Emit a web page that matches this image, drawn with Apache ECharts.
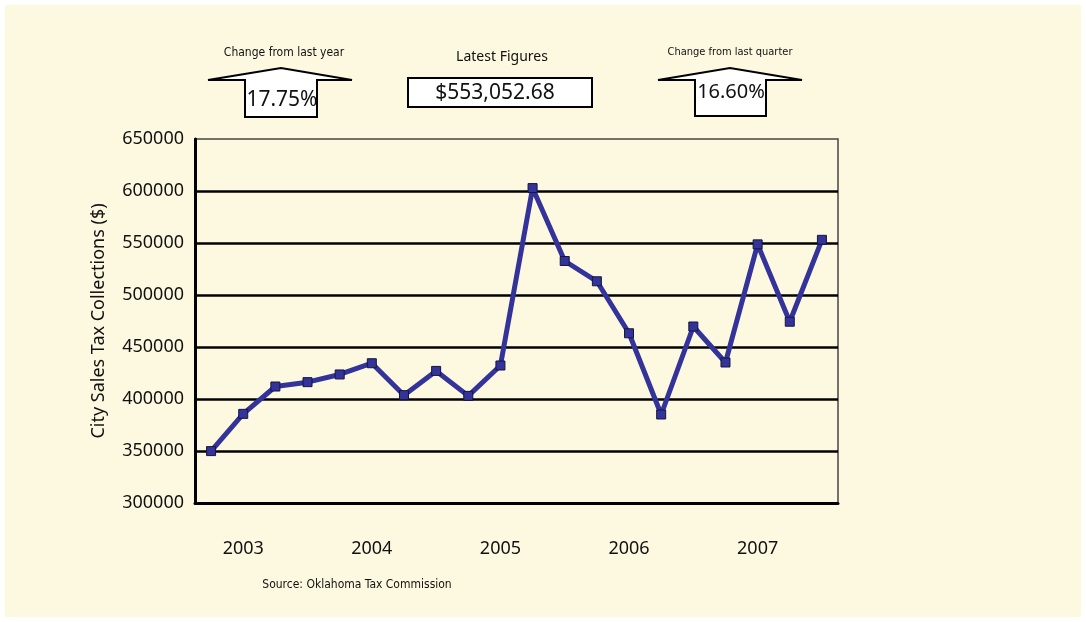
<!DOCTYPE html>
<html>
<head>
<meta charset="utf-8">
<title>City Sales Tax Collections</title>
<script src="https://cdn.jsdelivr.net/npm/echarts@6/dist/echarts.min.js"></script>
<style>
  html, body { margin: 0; padding: 0; background: #fff; }
  .echarts { width: 1086px; height: 622px; }
</style>
</head>
<body>
<div id="chart" class="echarts"></div>
<script>
// quarters, first one is Q4 2002
const quarters = [
  '2002 Q4',
  '2003 Q1', '2003 Q2', '2003 Q3', '2003 Q4',
  '2004 Q1', '2004 Q2', '2004 Q3', '2004 Q4',
  '2005 Q1', '2005 Q2', '2005 Q3', '2005 Q4',
  '2006 Q1', '2006 Q2', '2006 Q3', '2006 Q4',
  '2007 Q1', '2007 Q2', '2007 Q3'
]
const collections = [
  349900,
  385700, 412000, 416200, 423600,
  434400, 403700, 427000, 403000,
  432200, 602800, 532700, 513200,
  463200, 385100, 469700, 435100,
  548700, 474300, 553053
]
const yTicks = [300000, 350000, 400000, 450000, 500000, 550000, 600000, 650000]

const latestFigure = '$553,052.68'
const yearChange = '17.75%'
const quarterChange = '16.60%'

const mainFont = '"Noto Sans", "Open Sans", sans-serif'
const narrowFont = '"Liberation Sans Narrow", "DejaVu Sans Condensed", sans-serif'

const initChart = () => {
  const chart = echarts.init(document.getElementById('chart'))
  const options = {
    backgroundColor: '#fdf9e1',
    animation: false,
    grid: {
      left: 195,
      right: 248,
      top: 139,
      bottom: 119,
      show: true,
      borderColor: '#444',
      borderWidth: 1.5,
      backgroundColor: 'transparent'
    },
    xAxis: {
      type: 'category',
      data: quarters,
      boundaryGap: true,
      axisLine: { lineStyle: { color: '#000', width: 3 } },
      axisTick: {
        interval: 0,
        alignWithLabel: true,
        length: 9,
        lineStyle: { color: '#777', width: 1.5 }
      },
      axisLabel: {
        interval: (i) => i % 4 === 1,
        formatter: (v) => v.slice(0, 4),
        margin: 37,
        color: '#111',
        fontFamily: mainFont,
        fontSize: 18
      }
    },
    yAxis: {
      type: 'value',
      min: yTicks[0],
      max: yTicks[yTicks.length - 1],
      interval: 50000,
      name: 'City Sales Tax Collections ($)',
      nameLocation: 'middle',
      nameGap: 87,
      nameTextStyle: { color: '#111', fontFamily: mainFont, fontSize: 18 },
      axisLine: { show: true, lineStyle: { color: '#000', width: 3 } },
      axisTick: { show: false },
      axisLabel: {
        margin: 11,
        formatter: (v) => String(v),
        color: '#111',
        fontFamily: mainFont,
        fontSize: 18
      },
      splitLine: {
        show: true,
        lineStyle: {
          // last one (650000) is the frame, drawn by the grid border
          color: ['#000', '#000', '#000', '#000', '#000', '#000', '#000', 'transparent'],
          width: 2.5
        }
      }
    },
    series: [
      {
        name: 'City Sales Tax Collections',
        type: 'line',
        data: collections,
        symbol: 'rect',
        symbolSize: 9,
        showAllSymbol: true,
        lineStyle: { color: '#33339a', width: 5 },
        itemStyle: { color: '#33339a', borderColor: '#15153f', borderWidth: 1 },
        z: 5
      }
    ],
    graphic: [
      // white frame round the page
      {
        type: 'rect',
        shape: { x: 0, y: 0, width: 1086, height: 622 },
        style: { fill: 'none', stroke: '#fff', lineWidth: 10 },
        silent: true
      },
      // change from last year arrow
      {
        type: 'polygon',
        shape: { points: [[208, 80], [281, 68], [352, 80], [317, 80], [317, 117], [245, 117], [245, 80]] },
        style: { fill: '#fff', stroke: '#000', lineWidth: 2 }
      },
      {
        type: 'text',
        x: 284, y: 53,
        style: { text: 'Change from last year', fontSize: 12, fontFamily: narrowFont, fill: '#111', align: 'center', verticalAlign: 'middle' }
      },
      {
        type: 'text',
        x: 282, y: 100,
        style: { text: yearChange, fontSize: 21, fontFamily: mainFont, fill: '#111', align: 'center', verticalAlign: 'middle' }
      },
      // latest figures box
      {
        type: 'text',
        x: 502, y: 57,
        style: { text: 'Latest Figures', fontSize: 14, fontFamily: mainFont, fill: '#111', align: 'center', verticalAlign: 'middle' }
      },
      {
        type: 'rect',
        shape: { x: 408, y: 78, width: 184, height: 29 },
        style: { fill: '#fff', stroke: '#000', lineWidth: 2 }
      },
      {
        type: 'text',
        x: 495, y: 93,
        style: { text: latestFigure, fontSize: 21, fontFamily: mainFont, fill: '#111', align: 'center', verticalAlign: 'middle' }
      },
      // change from last quarter arrow
      {
        type: 'polygon',
        shape: { points: [[658, 80], [730, 68], [802, 80], [766, 80], [766, 116], [695, 116], [695, 80]] },
        style: { fill: '#fff', stroke: '#000', lineWidth: 2 }
      },
      {
        type: 'text',
        x: 730, y: 52,
        style: { text: 'Change from last quarter', fontSize: 11, fontFamily: narrowFont, fill: '#111', align: 'center', verticalAlign: 'middle' }
      },
      {
        type: 'text',
        x: 731, y: 92,
        style: { text: quarterChange, fontSize: 20, fontFamily: mainFont, fill: '#111', align: 'center', verticalAlign: 'middle' }
      },
      // source
      {
        type: 'text',
        x: 357, y: 585,
        style: { text: 'Source: Oklahoma Tax Commission', fontSize: 12, fontFamily: narrowFont, fill: '#111', align: 'center', verticalAlign: 'middle' }
      }
    ]
  }
  chart.setOption(options)
  return chart
}

const chart = initChart()
window.addEventListener('resize', function () {
  chart && chart.resize()
})
</script>
</body>
</html>
